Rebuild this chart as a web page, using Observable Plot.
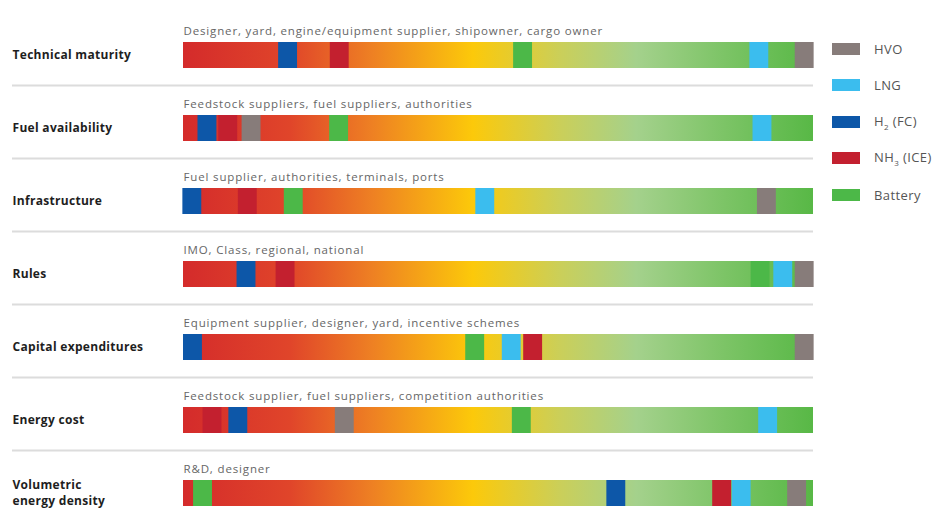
<!DOCTYPE html>
<html>
<head>
<meta charset="utf-8">
<script src="https://cdn.jsdelivr.net/npm/d3@7"></script>
<script src="https://cdn.jsdelivr.net/npm/@observablehq/plot@0.6"></script>
<style>
  body { margin: 0; background: #fff; }
  #chart { position: relative; width: 944px; height: 509px; overflow: hidden; }
  #legend { position: absolute; left: 832px; top: 42px; font-family: "Open Sans", sans-serif; font-size: 13px; letter-spacing: 0.4px; color: #555; }
  #legend .item { display: flex; align-items: center; height: 13px; margin-bottom: 23.5px; white-space: nowrap; }
  #legend .sw { width: 28px; height: 12px; margin-right: 14px; flex: none; }
  #legend sub { font-size: 8px; }
</style>
</head>
<body>
<div id="chart"><div id="legend"></div></div>
<script>
// Barrier categories, top to bottom
const factors = [
  "Technical maturity",
  "Fuel availability",
  "Infrastructure",
  "Rules",
  "Capital expenditures",
  "Energy cost",
  "Volumetric energy density"
];
const labels = [
  "Technical maturity",
  "Fuel availability",
  "Infrastructure",
  "Rules",
  "Capital expenditures",
  "Energy cost",
  "Volumetric\nenergy density"
];
// Stakeholders responsible for each barrier
const stakeholders = [
  "Designer, yard, engine/equipment supplier, shipowner, cargo owner",
  "Feedstock suppliers, fuel suppliers, authorities",
  "Fuel supplier, authorities, terminals, ports",
  "IMO, Class, regional, national",
  "Equipment supplier, designer, yard, incentive schemes",
  "Feedstock supplier, fuel suppliers, competition authorities",
  "R&D, designer"
];

// Fuel options and their colours
const fuels = ["HVO", "LNG", "H2 (FC)", "NH3 (ICE)", "Battery"];
const fuelColors = ["#877c7a", "#3bbdee", "#0d57a8", "#c3202f", "#4cb848"];

// Position of each fuel on the barrier scale (0 = major barrier, 100 = no barrier), one value per category
const hvo     = [98.6, 10.8, 92.6, 98.6, 98.6, 25.6, 97.4];
const lng     = [91.4, 91.9, 47.9, 95.2, 52.1, 92.8, 88.6];
const h2      = [16.6,  3.8,  1.4, 10.0,  1.5,  8.7, 68.7];
const nh3     = [24.8,  7.1, 10.2, 16.2, 55.5,  4.6, 85.5];
const battery = [53.9, 24.7, 17.5, 91.6, 46.3, 53.7,  3.1];

const series = [hvo, lng, h2, nh3, battery];
const markers = factors.flatMap((factor, i) =>
  fuels.map((fuel, j) => ({factor, fuel, pos: series[j][i]}))
);
const half = 1.5; // half width of a fuel marker, in scale units

const chart = Plot.plot({
  width: 944,
  height: 509,
  marginLeft: 183,
  marginRight: 131,
  marginTop: 0,
  marginBottom: 0,
  x: {domain: [0, 100], axis: null},
  y: {domain: factors, range: [41, 506.2], paddingInner: 0.645, paddingOuter: 0, axis: null},
  color: {domain: fuels, range: fuelColors},
  style: {fontFamily: "'Open Sans', sans-serif", background: "#fff", overflow: "visible"},
  marks: [
    Plot.ruleY(factors.slice(0, -1), {y: d => d, dy: 30, stroke: "#dcdcdc", strokeWidth: 2, insetLeft: -171}),
    Plot.barX(factors, {y: d => d, x1: () => 0, x2: () => 100, fill: "url(#readiness)"}),
    Plot.barX(markers, {y: "factor", x1: d => d.pos - half, x2: d => d.pos + half, fill: "fuel"}),
    Plot.text(factors, {
      y: d => d, text: (d, i) => labels[i], frameAnchor: "left", textAnchor: "start",
      dx: -171, dy: -2, fontWeight: "bold", fontSize: 12, fill: "#1e1e1e", lineHeight: 1.37
    }),
    Plot.text(factors, {
      y: d => d, text: (d, i) => stakeholders[i], frameAnchor: "left", textAnchor: "start",
      dy: -24, fontSize: 11.5, fill: "#666"
    })
  ]
});

// Letter spacing for the category labels and the stakeholder lines
const textGroups = d3.select(chart).selectAll('g[aria-label="text"]').nodes();
d3.select(textGroups[0]).attr("letter-spacing", 0.3);
d3.select(textGroups[1]).attr("letter-spacing", 0.85);

// Red → orange → yellow → green gradient shared by every bar
const defs = d3.select(chart).insert("defs", ":first-child");
const grad = defs.append("linearGradient").attr("id", "readiness").attr("x1", 0).attr("x2", 1).attr("y1", 0).attr("y2", 0);
[
  [0, "#d42b2b"], [0.17, "#e0452a"], [0.3, "#ee8023"], [0.46, "#fcc90a"],
  [0.6, "#cacf5a"], [0.72, "#a4d18c"], [0.86, "#7cc466"], [1, "#58b846"]
].forEach(([o, c]) => grad.append("stop").attr("offset", o).attr("stop-color", c));

document.getElementById("chart").prepend(chart);

// Legend
const legend = d3.select("#legend");
fuels.forEach((f, i) => {
  const item = legend.append("div").attr("class", "item");
  item.append("div").attr("class", "sw").style("background", fuelColors[i]);
  item.append("span").html(f.replace(/(\d)/g, "<sub>$1</sub>"));
});
</script>
</body>
</html>
